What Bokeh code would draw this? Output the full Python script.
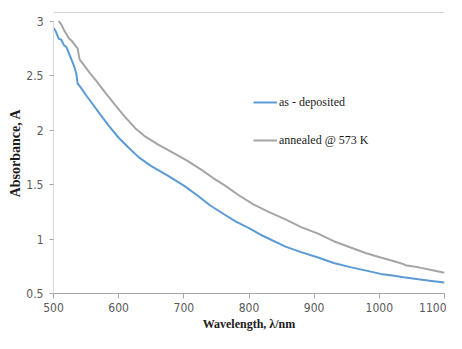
from bokeh.plotting import figure
from bokeh.models import Legend, LegendItem, Span, FixedTicker, Range1d
from bokeh.embed import file_html
from bokeh.resources import INLINE

# ---- data ----
wl_dep = [500, 504, 508, 512, 516, 520, 524, 528, 532, 535, 537, 542, 550, 560, 571, 585,
          600, 615, 631, 650, 676, 700, 721, 740, 761, 780, 800, 821, 856, 880, 906, 930,
          957, 980, 1002, 1020, 1037, 1060, 1080, 1100]
abs_dep = [2.94, 2.90, 2.84, 2.83, 2.78, 2.76, 2.70, 2.64, 2.58, 2.52, 2.43, 2.39, 2.32, 2.24, 2.15, 2.04,
           1.93, 1.84, 1.75, 1.67, 1.58, 1.49, 1.40, 1.31, 1.23, 1.16, 1.10, 1.03, 0.93, 0.88, 0.83, 0.78,
           0.74, 0.71, 0.68, 0.665, 0.65, 0.63, 0.615, 0.60]

wl_ann = [508, 512, 516, 520, 524, 528, 533, 537, 540, 545, 555, 566, 580, 596, 610, 625,
          641, 660, 681, 705, 726, 745, 761, 785, 806, 830, 856, 880, 906, 930, 957, 980,
          1002, 1020, 1037, 1040, 1060, 1080, 1100]
abs_ann = [3.00, 2.97, 2.92, 2.88, 2.84, 2.82, 2.78, 2.75, 2.65, 2.61, 2.53, 2.45, 2.34, 2.22, 2.12, 2.02,
           1.94, 1.87, 1.80, 1.72, 1.64, 1.56, 1.50, 1.40, 1.32, 1.25, 1.18, 1.11, 1.05, 0.98, 0.92, 0.87,
           0.83, 0.80, 0.77, 0.76, 0.74, 0.715, 0.69]

x_ticks = [500, 600, 700, 800, 900, 1000, 1100]
y_ticks = [0.5, 1, 1.5, 2, 2.5, 3]
series_names = ["as - deposited", "annealed @ 573 K"]
x_title = "Wavelength, λ/nm"
y_title = "Absorbance, A"

y_top = 3.08

p = figure(width=446, height=333, output_backend="svg", toolbar_location=None,
           x_range=Range1d(500, 1100), y_range=Range1d(0.5, y_top))
p.min_border_left = 53
p.min_border_right = 2
p.min_border_top = 12
p.min_border_bottom = 36
p.outline_line_color = None
p.grid.visible = False
p.background_fill_color = "white"
p.border_fill_color = "white"

r1 = p.line(wl_dep, abs_dep, line_color="#5B9BD5", line_width=2)
r2 = p.line(wl_ann, abs_ann, line_color="#A5A5A5", line_width=2)

tick_font = "Liberation Sans Narrow, DejaVu Sans Condensed, sans-serif"

xa = p.xaxis[0]
xa.ticker = FixedTicker(ticks=x_ticks)
xa.axis_line_color = "#a6a6a6"
xa.major_tick_line_color = "#a6a6a6"
xa.major_tick_out = 5
xa.major_tick_in = 0
xa.minor_tick_out = 0
xa.minor_tick_in = 0
xa.major_label_text_font = tick_font
xa.major_label_text_font_size = "12px"
xa.major_label_text_color = "#595959"
xa.major_label_standoff = 4
xa.axis_label = x_title
xa.axis_label_text_font = "Liberation Serif"
xa.axis_label_text_font_style = "bold"
xa.axis_label_text_font_size = "12px"
xa.axis_label_text_color = "#1a1a1a"
xa.axis_label_standoff = 2

ya = p.yaxis[0]
ya.ticker = FixedTicker(ticks=y_ticks)
ya.bounds = (0.5, 3)
ya.axis_line_color = "#d9d9d9"
ya.major_tick_line_color = "#a6a6a6"
ya.major_tick_out = 4
ya.major_tick_in = 0
ya.minor_tick_out = 0
ya.minor_tick_in = 0
ya.major_label_text_font = tick_font
ya.major_label_text_font_size = "12px"
ya.major_label_text_color = "#595959"
ya.major_label_standoff = 6
ya.axis_label = y_title
ya.axis_label_text_font = "Liberation Serif"
ya.axis_label_text_font_style = "bold"
ya.axis_label_text_font_size = "14px"
ya.axis_label_text_color = "#1a1a1a"
ya.axis_label_standoff = 0

p.add_layout(Span(location=y_top, dimension="width", line_color="#a6a6a6", line_width=1))

legend = Legend(items=[LegendItem(label=series_names[0], renderers=[r1]),
                       LegendItem(label=series_names[1], renderers=[r2])],
                location=(200, 143), orientation="vertical")
legend.background_fill_alpha = 0
legend.border_line_color = None
legend.padding = 0
legend.margin = 0
legend.spacing = 18
legend.glyph_width = 24
legend.label_standoff = 2
legend.label_text_font = "Liberation Serif"
legend.label_text_font_size = "12px"
legend.label_text_color = "#1a1a1a"
p.add_layout(legend, "center")

open("out.html", "w").write(file_html(p, INLINE))
